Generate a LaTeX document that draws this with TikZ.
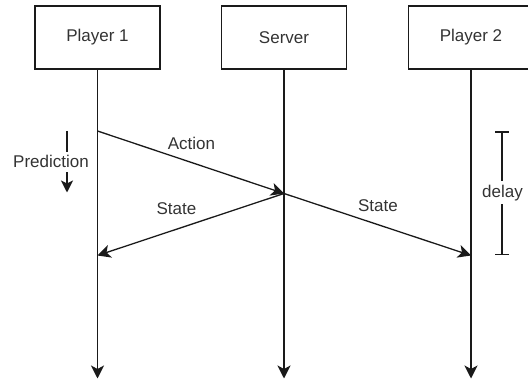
\documentclass[tikz,border=0pt]{standalone}
\usepackage{fontspec}
\setmainfont{Liberation Sans}
\usetikzlibrary{arrows.meta}
\definecolor{ink}{HTML}{1A1A1A}
\definecolor{txt}{HTML}{333333}
\begin{document}
\begin{tikzpicture}[x=1pt,y=-1pt,
  font=\fontsize{17}{20}\selectfont,
  actor/.style={draw=ink, line width=1.3pt, minimum width=125pt, minimum height=63pt, text=txt, inner sep=0pt},
  lbl/.style={text=txt, inner sep=1pt},
  tip/.style={-{Stealth[length=13pt,width=13pt,inset=3.5pt]}},
  line/.style={draw=ink, line width=1.3pt}]
\useasboundingbox (0,0) rectangle (528,379);
\begin{scope}
\clip (0,0) rectangle (528,379);
\node[actor] (p1) at (97.5,37.5) {Player 1};
\node[actor] (srv) at (284,37.5) {Server};
\node[actor] (p2) at (471,37.5) {Player 2};
\end{scope}

\coordinate (e1) at (97.5,378.5);
\coordinate (e2) at (284,378.5);
\coordinate (e3) at (471,378.5);
\coordinate (a1) at (97.5,131);
\coordinate (s0) at (284,193.5);
\coordinate (b1) at (97.5,255.5);
\coordinate (c3) at (471,255.5);

% lifelines
\path[line,tip] (p1.south) -- (e1);
\path[line,tip] (srv.south) -- (e2);
\path[line,tip] (p2.south) -- (e3);

% messages
\path[line,tip] (a1) -- (s0);
\path[line,tip] (s0) -- (b1);
\path[line,tip] (s0) -- (c3);
\node[lbl] (act) at (191.5,143.5) {Action};
\node[lbl] (st1) at (176.5,209) {State};
\node[lbl] (st2) at (378,206) {State};

% prediction
\coordinate (pr1) at (67,131);
\coordinate (pr2) at (67,152.5);
\coordinate (pr3) at (67,172.5);
\coordinate (pr4) at (67,192.5);
\node[lbl] (pred) at (51,161) {Prediction};
\path[line] (pr1) -- (pr2);
\path[line,-{Stealth[length=12pt,width=12pt,inset=3pt]}] (pr3) -- (pr4);

% delay
\coordinate (d1) at (502,131.5);
\coordinate (d2) at (502,181.5);
\coordinate (d3) at (502,204.5);
\coordinate (d4) at (502,255.5);
\node[lbl] (dl) at (502.5,193) {delay};
\path[line,{Bar[width=14pt]}-] (d1) -- (d2);
\path[line,-{Bar[width=14pt]}] (d3) -- (d4);
\end{tikzpicture}
\end{document}
